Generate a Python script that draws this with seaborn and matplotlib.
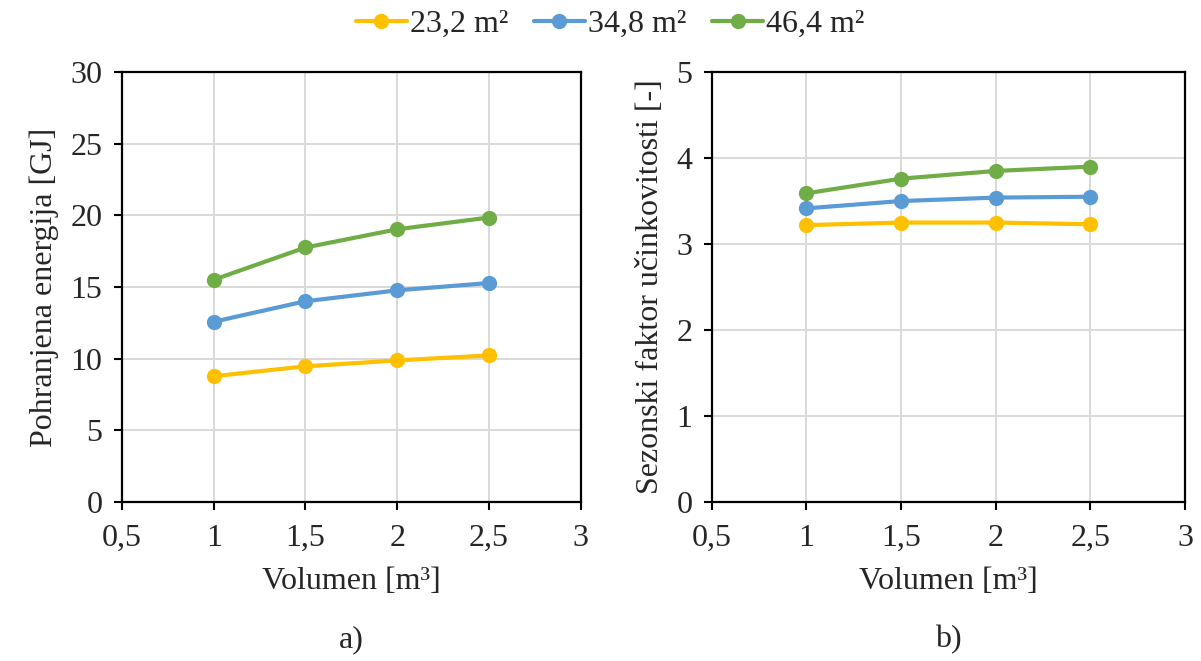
import pandas as pd
import numpy as np
import matplotlib.pyplot as plt
import seaborn as sns
from matplotlib.ticker import FixedLocator, FixedFormatter

sns.set_style("white")
plt.rcParams['font.family'] = ['Liberation Serif', 'DejaVu Serif']

# ---------- data ----------
volumes = [1.0, 1.5, 2.0, 2.5]
areas = ["23,2 m²", "34,8 m²", "46,4 m²"]
energy_23 = [8.78, 9.47, 9.88, 10.23]
energy_35 = [12.58, 14.01, 14.77, 15.28]
energy_46 = [15.51, 17.76, 19.03, 19.85]
spf_23 = [3.22, 3.25, 3.25, 3.23]
spf_35 = [3.415, 3.50, 3.54, 3.55]
spf_46 = [3.59, 3.76, 3.85, 3.90]

x_ticks = [0.5, 1.0, 1.5, 2.0, 2.5, 3.0]
x_tick_labels = ["0,5", "1", "1,5", "2", "2,5", "3"]
colors = ["#FFC000", "#5B9BD5", "#70AD47"]

FS = 23


def long_table(series):
    rows = []
    for name, vals in zip(areas, series):
        for v, y in zip(volumes, vals):
            rows.append({"Volumen": v, "value": y, "area": name})
    return pd.DataFrame(rows)


df_energy = long_table([energy_23, energy_35, energy_46])
df_spf = long_table([spf_23, spf_35, spf_46])

fig = plt.figure(figsize=(12.01, 6.61), dpi=100)
ax1 = fig.add_axes([0.1016, 0.2405, 0.3819, 0.6505])
ax2 = fig.add_axes([0.5926, 0.2405, 0.3941, 0.6505])


def draw(ax, df, ymax, ystep, ylabel, tag):
    sns.lineplot(data=df, x="Volumen", y="value", hue="area",
                 palette=colors, marker="o", markersize=11,
                 markeredgewidth=0, linewidth=3, ax=ax, legend=False)
    ax.set_xlim(0.5, 3)
    ax.set_ylim(0, ymax)
    ax.xaxis.set_major_locator(FixedLocator(x_ticks))
    ax.xaxis.set_major_formatter(FixedFormatter(x_tick_labels))
    ax.set_yticks(np.arange(0, ymax + ystep / 2, ystep))
    ax.grid(True, color="#d9d9d9", linewidth=1.4)
    ax.set_axisbelow(True)
    for s in ax.spines.values():
        s.set_visible(True)
        s.set_color("black")
        s.set_linewidth(1.6)
    ax.tick_params(direction="out", length=6, width=1.5, color="black",
                   labelsize=FS, bottom=True, left=True)
    ax.tick_params(axis="x", pad=10)
    ax.tick_params(axis="y", pad=8)
    ax.set_xlabel("Volumen [m³]", fontsize=FS, labelpad=10)
    ax.set_ylabel(ylabel, fontsize=FS, labelpad=8)
    ax.text(0.5, -0.32, tag, transform=ax.transAxes, ha="center",
            va="center", fontsize=FS)


draw(ax1, df_energy, 30, 5, "Pohranjena energija [GJ]", "a)")
draw(ax2, df_spf, 5, 1, "Sezonski faktor učinkovitosti [-]", "b)")

handles = [plt.Line2D([], [], color=c, marker="o", markersize=11,
                      markeredgewidth=0, linewidth=3) for c in colors]
fig.legend(handles, areas, loc="center", bbox_to_anchor=(0.508, 0.963),
           ncol=3, frameon=False, fontsize=FS, handlelength=1.6,
           handletextpad=0.1, columnspacing=0.8)

plt.savefig("out.png", dpi=100)
plt.close()
